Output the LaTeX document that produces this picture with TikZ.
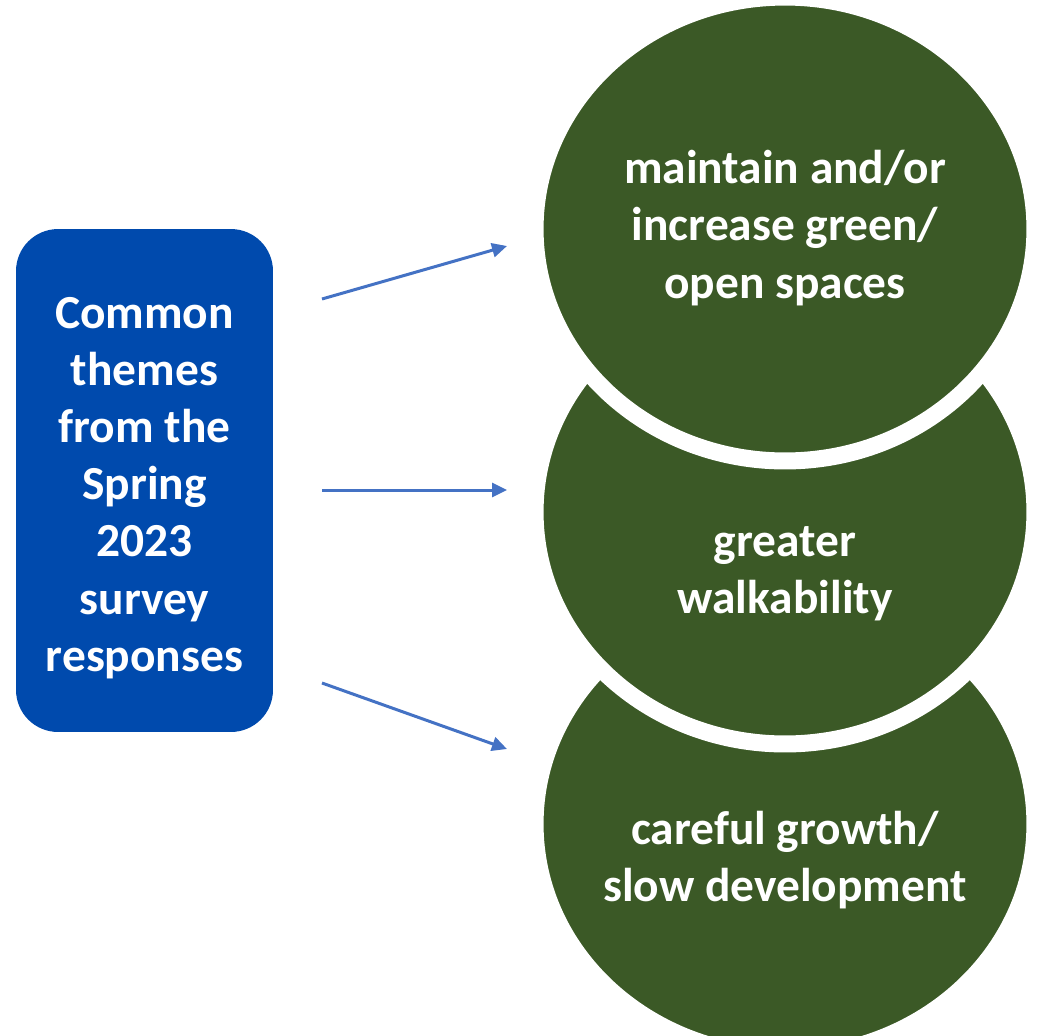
\documentclass[tikz,border=0pt]{standalone}
\usepackage{fontspec}
\setmainfont{Carlito}
\usepackage{xcolor}
\usepackage{tikz}
\usetikzlibrary{arrows.meta}
\usetikzlibrary{shapes.geometric}
\definecolor{boxblue}{RGB}{0,74,173}
\definecolor{leafgreen}{RGB}{59,89,38}
\definecolor{arrowblue}{RGB}{68,114,196}
\tikzset{>=latex}
\tikzstyle{theme} = [ellipse, fill=leafgreen, draw=white, line width=0.34cm, minimum width=10cm, minimum height=9.28cm, inner sep=0pt]
\tikzstyle{themetext} = [text=white, align=center, font=\fontsize{27}{32.5}\selectfont\bfseries]
\tikzstyle{link} = [-{Triangle[length=0.3cm, width=0.28cm]}, draw=arrowblue, line width=0.06cm]

\begin{document}
\begin{tikzpicture}[x=0.02cm, y=-0.02cm]
\useasboundingbox (0, 0) rectangle (1040, 1035);
\clip (0, 0) rectangle (1040, 1035);
% source box
\node [rectangle, rounded corners=0.84cm, fill=boxblue, minimum width=5.14cm, minimum height=10.06cm] (S) at (144.5, 480.5) {};
\node [themetext] (tS) at (144.5, 488) {Common\\themes\\from the\\Spring\\2023\\survey\\responses};
% overlapping theme circles, lowest first
\node [theme] (C) at (785, 824) {};
\node [theme] (B) at (785, 512) {};
\node [theme] (A) at (785, 229) {};
\node [themetext] (tA) at (785, 228) {maintain and/or\\increase green/\\open spaces};
\node [themetext] (tB) at (785, 574) {greater\\walkability};
\node [themetext] (tC) at (785, 860) {careful growth/\\slow development};
% arrow ends
\coordinate (sA) at (322, 299);
\coordinate (sB) at (322, 490);
\coordinate (sC) at (322, 683);
\coordinate (eA) at (507, 246);
\coordinate (eB) at (507, 490);
\coordinate (eC) at (507, 749);
\draw [link] (sA) to (eA);
\draw [link] (sB) to (eB);
\draw [link] (sC) to (eC);
\end{tikzpicture}
\end{document}
